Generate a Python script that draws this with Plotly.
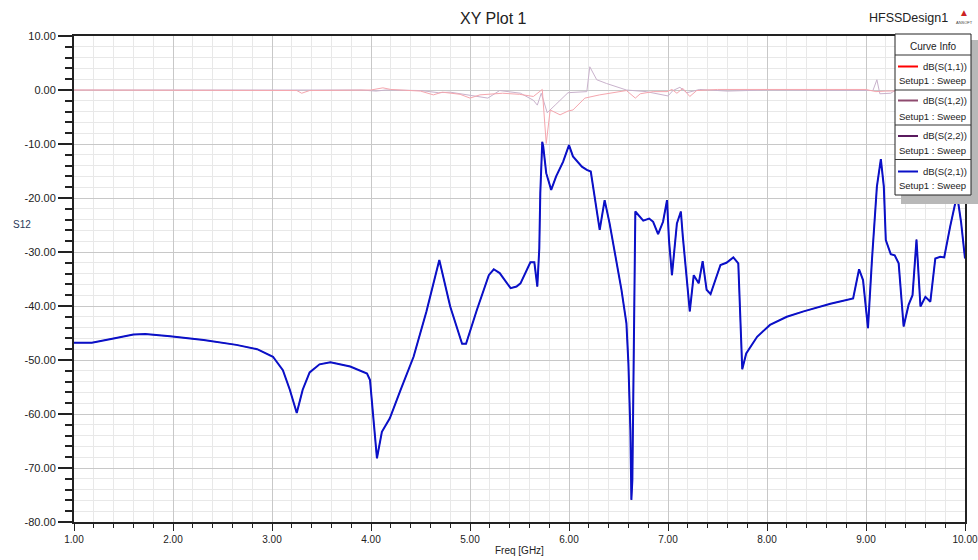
import plotly.graph_objects as go

# ---------------- data ----------------
s21_freq = [1.00, 1.18, 1.40, 1.60, 1.72, 1.97, 2.31, 2.64, 2.85, 3.01, 3.11, 3.18, 3.25, 3.31, 3.38, 3.48,
            3.59, 3.79, 3.96, 3.99, 4.03, 4.06, 4.11, 4.19, 4.30, 4.43, 4.56, 4.69, 4.80, 4.92, 4.96, 5.07,
            5.19, 5.24, 5.30, 5.41, 5.47, 5.51, 5.61, 5.65, 5.68, 5.70, 5.71, 5.73, 5.74, 5.77, 5.82, 5.87,
            5.94, 6.00, 6.04, 6.13, 6.18, 6.22, 6.31, 6.36, 6.41, 6.53, 6.58, 6.60, 6.62, 6.63, 6.64, 6.66,
            6.67, 6.75, 6.81, 6.85, 6.90, 6.95, 6.99, 7.01, 7.04, 7.09, 7.13, 7.15, 7.22, 7.26, 7.31, 7.35,
            7.39, 7.43, 7.53, 7.59, 7.66, 7.71, 7.75, 7.79, 7.86, 7.90, 8.03, 8.20, 8.37, 8.64, 8.87, 8.93,
            8.97, 9.02, 9.06, 9.11, 9.15, 9.18, 9.20, 9.25, 9.29, 9.33, 9.38, 9.43, 9.47, 9.51, 9.55, 9.60,
            9.65, 9.70, 9.75, 9.79, 9.85, 9.92, 9.96, 10.00]
s21_db = [-46.8, -46.8, -46.0, -45.3, -45.2, -45.6, -46.3, -47.2, -48.0, -49.4, -51.9, -55.5, -59.8, -55.5, -52.3, -50.8,
          -50.4, -51.2, -52.5, -53.7, -62.0, -68.2, -63.3, -60.8, -55.5, -49.4, -41.0, -31.5, -40.1, -47.0, -47.0, -40.7,
          -34.3, -33.2, -33.9, -36.7, -36.4, -35.8, -31.9, -31.9, -36.4, -29.3, -19.1, -9.6, -10.5, -15.4, -18.5, -16.0,
          -13.3, -10.2, -12.3, -14.2, -14.8, -15.1, -25.9, -20.4, -24.7, -37.0, -43.2, -50.6, -63.0, -75.9, -72.2, -44.4,
          -22.5, -24.2, -23.8, -24.4, -26.7, -24.4, -20.4, -27.8, -34.3, -24.7, -22.5, -27.2, -41.0, -34.3, -35.8, -31.7,
          -37.0, -37.8, -32.4, -32.0, -31.0, -32.1, -51.7, -48.8, -46.9, -45.7, -43.5, -42.0, -41.0, -39.6, -38.6, -33.2,
          -35.2, -44.1, -31.5, -17.9, -12.8, -17.9, -27.8, -30.4, -30.6, -32.1, -43.8, -39.8, -38.0, -27.7, -40.1, -38.3,
          -39.2, -31.2, -30.9, -31.0, -25.3, -19.4, -24.4, -31.2]

# reciprocal network: S12 equals S21 (hidden underneath it)
s12_freq = s21_freq
s12_db = s21_db

s11_freq = [1.0, 3.0, 3.25, 3.30, 3.38, 4.0, 4.12, 4.2, 4.5, 4.63, 4.72, 4.9, 5.0, 5.1, 5.33, 5.5, 5.64, 5.73,
            5.77, 5.81, 5.91, 5.99, 6.04, 6.16, 6.31, 6.58, 6.67, 6.72, 6.85, 6.99, 7.04, 7.09, 7.15, 7.22, 7.29,
            7.5, 8.0, 9.0, 9.1, 9.2, 10.0]
s11_db = [0.0, 0.0, -0.1, -0.6, -0.1, 0.0, 0.4, 0.1, -0.2, -0.9, -0.4, -0.8, -1.5, -0.9, -0.6, -0.8, -1.2, 0.1,
          -9.9, -3.7, -4.6, -3.9, -3.7, -1.5, -0.9, -0.1, -1.5, -0.7, -0.3, -0.3, 0.1, -0.6, 0.3, -1.2, -0.1,
          0.1, 0.1, 0.1, -0.3, -0.2, 0.0]

s22_freq = [1.0, 3.0, 3.9, 4.05, 4.15, 4.5, 4.68, 4.8, 5.0, 5.18, 5.3, 5.51, 5.64, 5.68, 5.72, 5.78, 5.86, 5.99,
            6.18, 6.21, 6.28, 6.38, 6.58, 6.78, 7.0, 7.05, 7.12, 7.19, 7.32, 7.6, 8.0, 9.0, 9.07, 9.11, 9.14,
            9.25, 9.3, 10.0]
s22_db = [0.0, 0.0, 0.0, -0.2, 0.0, -0.1, -0.5, -0.4, -1.0, -1.5, -0.1, -0.6, -1.9, -2.8, -0.6, -4.2, -2.8, -0.5,
          -0.3, 4.3, 1.9, 1.2, 0.0, -0.3, -1.1, -0.1, 0.5, -0.5, 0.1, -0.2, 0.0, 0.0, -0.1, 1.9, -0.7,
          -0.6, 0.0, 0.0]

curve_names = ["dB(S(1,1))", "dB(S(1,2))", "dB(S(2,2))", "dB(S(2,1))"]
legend_colors = ["#FF0000", "#8E4A6E", "#5A1A5E", "#0A10C8"]
sweep_label = "Setup1 : Sweep"

x_ticks = [1, 2, 3, 4, 5, 6, 7, 8, 9, 10]
y_ticks = [10, 0, -10, -20, -30, -40, -50, -60, -70, -80]

# ---------------- layout helpers (pixel -> paper) ----------------
W, H = 978, 560
L, R, T, B = 74, 965, 36, 522


def px(xp):
    return (xp - L) / (R - L)


def py(yp):
    return (B - yp) / (B - T)


FONT = "Liberation Sans, Arial, sans-serif"

fig = go.Figure()
fig.add_trace(go.Scatter(x=s12_freq, y=s12_db, mode="lines", name=curve_names[1],
                         line=dict(color="#8E4A6E", width=1), showlegend=False))
fig.add_trace(go.Scatter(x=s22_freq, y=s22_db, mode="lines", name=curve_names[2],
                         line=dict(color="#C9B2CC", width=1), showlegend=False))
fig.add_trace(go.Scatter(x=s11_freq, y=s11_db, mode="lines", name=curve_names[0],
                         line=dict(color="#F5A6AE", width=1), showlegend=False))
fig.add_trace(go.Scatter(x=s21_freq, y=s21_db, mode="lines", name=curve_names[3],
                         line=dict(color="#0A10C8", width=2), showlegend=False))

axis_common = dict(showline=True, linecolor="#222222", linewidth=2, mirror=True,
                   ticks="outside", tickcolor="#222222", zeroline=False, automargin=False,
                   showgrid=True, gridcolor="#C8C8C8", gridwidth=1, ticklabeloverflow="allow")

fig.update_xaxes(range=[1, 10], tickvals=x_ticks, ticktext=[f"{v:.2f}" for v in x_ticks],
                 ticklen=7, tickwidth=1,
                 tickfont=dict(family=FONT, size=10, color="#222222"),
                 minor=dict(dtick=0.2, ticklen=4, tickcolor="#222222", showgrid=True,
                            gridcolor="#E8E8E8", gridwidth=1, ticks="outside"),
                 **axis_common)
fig.update_yaxes(range=[-80, 10], tickvals=y_ticks, ticktext=[f"{v:.2f}" for v in y_ticks],
                 ticklen=14, tickwidth=1.5,
                 tickfont=dict(family=FONT, size=11, color="#222222"),
                 minor=dict(dtick=2, ticklen=7, tickcolor="#222222", showgrid=True,
                            gridcolor="#E8E8E8", gridwidth=1, ticks="outside"),
                 **axis_common)

shapes = []
annotations = []

# white artifact patch over the grid
shapes.append(dict(type="rect", xref="paper", yref="paper", x0=px(104), x1=px(140), y0=py(262), y1=py(214),
                   fillcolor="white", line=dict(width=0), layer="between"))

# Legend box with shadow
bx0, bx1, by0, by1 = 895, 971, 34, 195
shapes.append(dict(type="rect", xref="paper", yref="paper", x0=px(bx0 + 6), x1=px(bx1 + 7),
                   y0=py(by1 + 9), y1=py(by0 + 6), fillcolor="#B8B8B8", line=dict(width=0), layer="above"))
shapes.append(dict(type="rect", xref="paper", yref="paper", x0=px(bx0), x1=px(bx1),
                   y0=py(by1), y1=py(by0), fillcolor="white", line=dict(color="#222222", width=1), layer="above"))
annotations.append(dict(x=px((bx0 + bx1) / 2), y=py(46), xref="paper", yref="paper", text="Curve Info",
                        showarrow=False, font=dict(family=FONT, size=10, color="#222222"),
                        xanchor="center", yanchor="middle"))
seps = [55, 90, 125, 159.5]
for s in seps:
    shapes.append(dict(type="line", xref="paper", yref="paper", x0=px(bx0), x1=px(bx1), y0=py(s), y1=py(s),
                       line=dict(color="#333333", width=1), layer="above"))
row_line_y = [66.5, 100.5, 136, 171.5]
row_sweep_y = [81, 116, 150.5, 185]
for i in range(4):
    shapes.append(dict(type="line", xref="paper", yref="paper", x0=px(898), x1=px(918),
                       y0=py(row_line_y[i]), y1=py(row_line_y[i]),
                       line=dict(color=legend_colors[i], width=2), layer="above"))
    annotations.append(dict(x=px(969), y=py(row_line_y[i]), xref="paper", yref="paper", text=curve_names[i],
                            showarrow=False, font=dict(family=FONT, size=9.5, color="#222222"),
                            xanchor="right", yanchor="middle"))
    annotations.append(dict(x=px(897), y=py(row_sweep_y[i]), xref="paper", yref="paper", text=sweep_label,
                            showarrow=False, font=dict(family=FONT, size=9.5, color="#222222"),
                            xanchor="left", yanchor="middle"))

# titles / labels
annotations.append(dict(x=px(493), y=py(18), xref="paper", yref="paper", text="XY Plot 1", showarrow=False,
                        font=dict(family=FONT, size=16, color="#222222"), xanchor="center", yanchor="middle"))
annotations.append(dict(x=px(950), y=py(18), xref="paper", yref="paper", text="HFSSDesign1", showarrow=False,
                        font=dict(family=FONT, size=12.5, color="#222222"), xanchor="right", yanchor="middle"))
annotations.append(dict(x=px(964), y=py(12), xref="paper", yref="paper", text="▲", showarrow=False,
                        font=dict(family=FONT, size=10, color="#CC2222"), xanchor="center", yanchor="middle"))
annotations.append(dict(x=px(964), y=py(23), xref="paper", yref="paper", text="ANSOFT", showarrow=False,
                        font=dict(family=FONT, size=4, color="#444444"), xanchor="center", yanchor="middle"))
annotations.append(dict(x=px(519.5), y=py(550), xref="paper", yref="paper", text="Freq [GHz]", showarrow=False,
                        font=dict(family=FONT, size=10, color="#222222"), xanchor="center", yanchor="middle"))
annotations.append(dict(x=px(22), y=py(225), xref="paper", yref="paper", text="S12", showarrow=False,
                        font=dict(family=FONT, size=10, color="#2A3A5A"), xanchor="center", yanchor="middle"))

fig.update_layout(width=W, height=H, margin=dict(l=L, r=W - R, t=T, b=H - B, autoexpand=False),
                  paper_bgcolor="white", plot_bgcolor="white",
                  shapes=shapes, annotations=annotations, showlegend=False,
                  font=dict(family=FONT, size=11, color="#222222"))

fig.write_html("out.html", config={"displayModeBar": False})

# remove the default browser body margin so the figure fills the window exactly
with open("out.html", "r", encoding="utf-8") as f:
    html = f.read()
html = html.replace("<head>", "<head><style>html,body{margin:0;padding:0;overflow:hidden;}</style>", 1)
with open("out.html", "w", encoding="utf-8") as f:
    f.write(html)
